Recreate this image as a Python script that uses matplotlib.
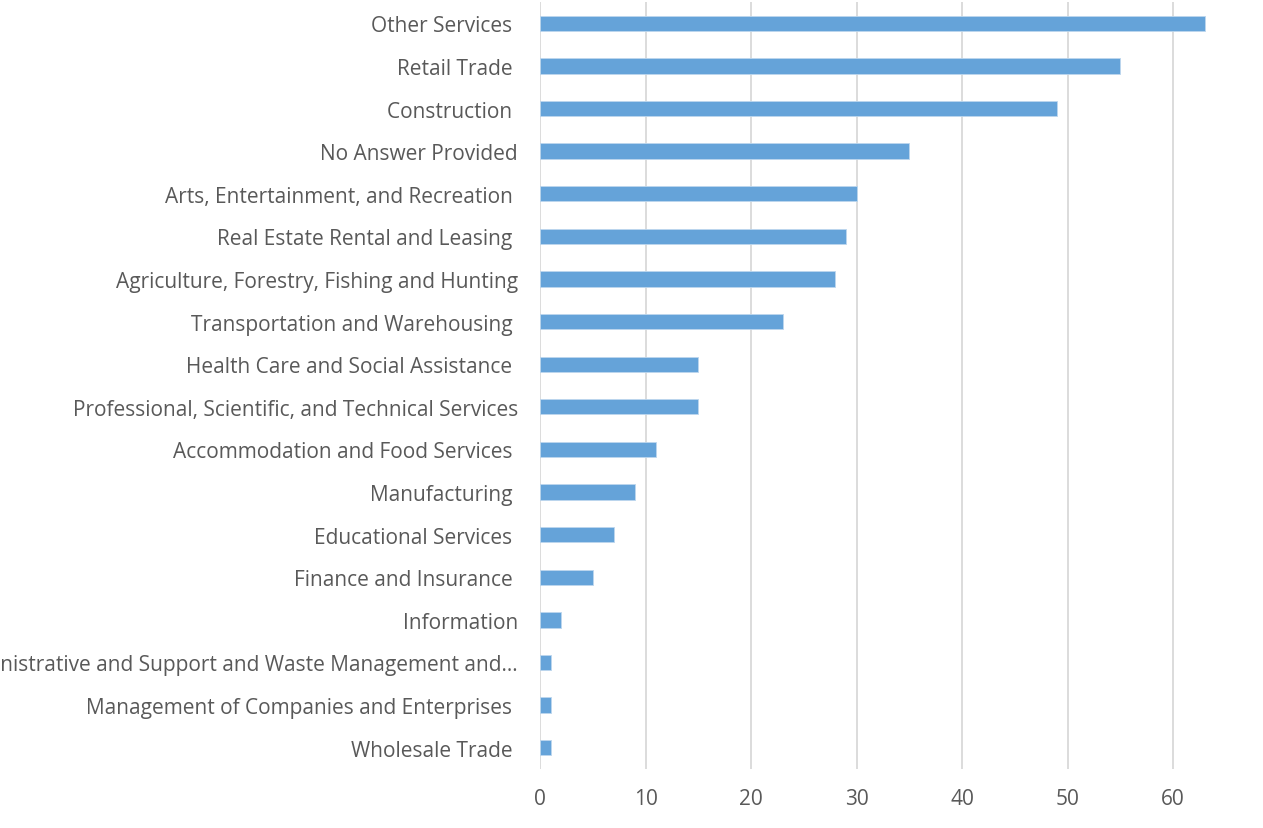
import matplotlib
matplotlib.use("Agg")
import matplotlib.pyplot as plt

# industries, top to bottom as listed in the chart
industries = [
    "Other Services ",
    "Retail Trade ",
    "Construction ",
    "No Answer Provided",
    "Arts, Entertainment, and Recreation ",
    "Real Estate Rental and Leasing ",
    "Agriculture, Forestry, Fishing and Hunting",
    "Transportation and Warehousing ",
    "Health Care and Social Assistance ",
    "Professional, Scientific, and Technical Services",
    "Accommodation and Food Services ",
    "Manufacturing ",
    "Educational Services ",
    "Finance and Insurance ",
    "Information",
    "Administrative and Support and Waste Management and\u2026",
    "Management of Companies and Enterprises ",
    "Wholesale Trade ",
]
counts = [63, 55, 49, 35, 30, 29, 28, 23, 15, 15, 11, 9, 7, 5, 2, 1, 1, 1]
xticks = [0, 10, 20, 30, 40, 50, 60]

plt.rcParams['font.family'] = ['Open Sans', 'DejaVu Sans']
text_grey = "#595959"

fig = plt.figure(figsize=(12.63, 8.29), dpi=100)
ax = fig.add_axes([540 / 1263, 59 / 829, 738.5 / 1263, 767 / 829])

ypos = list(range(len(industries)))[::-1]
ax.barh(ypos, counts, height=0.36, color="#65A3D9", edgecolor="#BDD7EE", linewidth=0.6, zorder=3)

ax.set_xlim(0, 70)
ax.set_ylim(-0.5, len(industries) - 0.5)
ax.set_yticks(ypos)
ax.set_yticklabels(industries, fontsize=15, color=text_grey)
ax.set_xticks(xticks)
ax.set_xticklabels([str(t) for t in xticks], fontsize=15, color=text_grey)
ax.tick_params(axis="y", length=0, pad=16)
ax.tick_params(axis="x", length=0, pad=14)

ax.grid(axis="x", color="#D9D9D9", linewidth=1.3, zorder=0)
for side in ["top", "right", "bottom", "left"]:
    ax.spines[side].set_visible(False)

fig.savefig("out.png", dpi=100)
